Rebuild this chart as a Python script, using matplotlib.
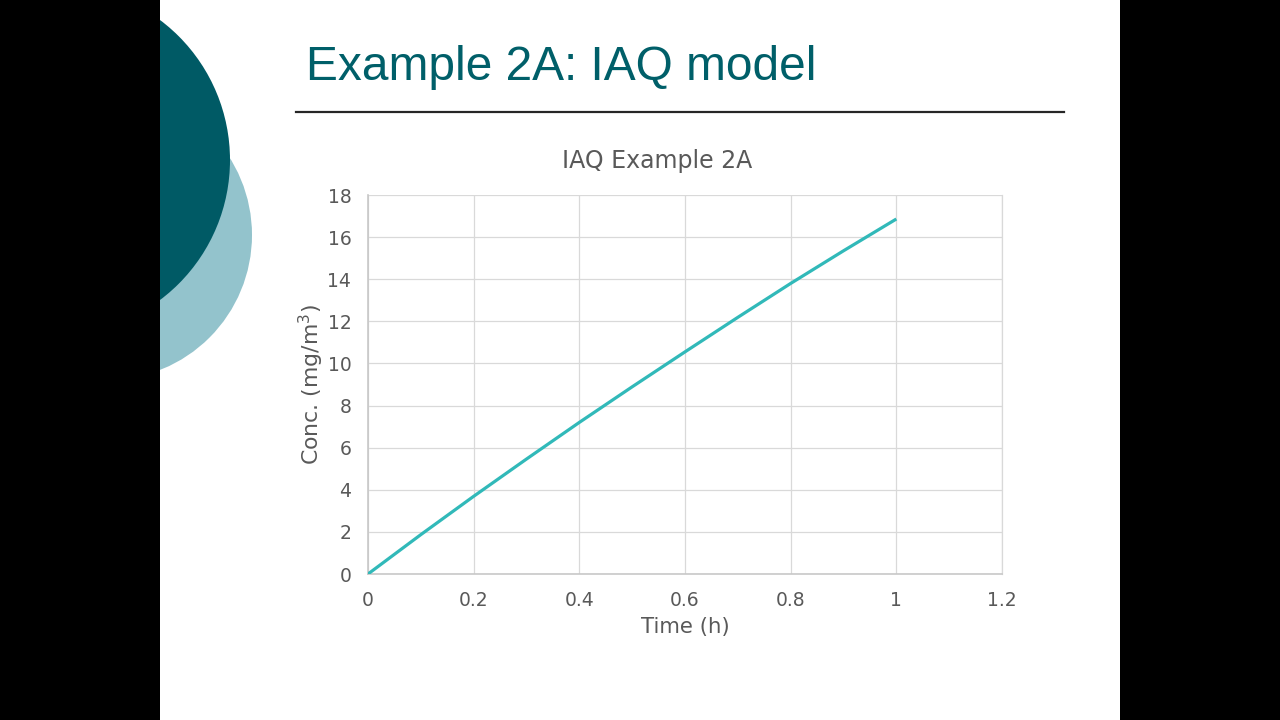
import matplotlib
matplotlib.use("Agg")
import matplotlib.pyplot as plt
from matplotlib.patches import Circle, Rectangle

# ---- data ----
time_h = [0.0, 0.1, 0.2, 0.3, 0.4, 0.5, 0.6, 0.7, 0.8, 0.9, 1.0]
conc = [0.0, 1.87, 3.69, 5.46, 7.20, 8.89, 10.55, 12.19, 13.80, 15.35, 16.86]
x_ticks = [0, 0.2, 0.4, 0.6, 0.8, 1, 1.2]
x_tick_labels = ["0", "0.2", "0.4", "0.6", "0.8", "1", "1.2"]
y_ticks = [0, 2, 4, 6, 8, 10, 12, 14, 16, 18]
y_tick_labels = [str(v) for v in y_ticks]

slide_title = "Example 2A: IAQ model"
chart_title = "IAQ Example 2A"
x_label = "Time (h)"
y_label = "Conc. (mg/m$^3$)"

W, H = 1280, 720
fig = plt.figure(figsize=(W / 100, H / 100), dpi=100, facecolor="black")

# ---- slide background / decorations (pixel coordinates) ----
bg = fig.add_axes([0, 0, 1, 1])
bg.set_xlim(0, W)
bg.set_ylim(H, 0)
bg.axis("off")
slide = Rectangle((160, 0), 960, 720, facecolor="white", edgecolor="none", zorder=0)
bg.add_patch(slide)
light = Circle((107, 235), 145, facecolor="#93C3CC", edgecolor="none", zorder=1)
dark = Circle((55, 160), 175, facecolor="#005A65", edgecolor="none", zorder=2)
for c in (light, dark):
    bg.add_patch(c)
    c.set_clip_path(slide)
bg.plot([296, 1064], [112, 112], color="#262626", lw=1.6, zorder=3)
bg.text(306, 80, slide_title, fontsize=34.5, family="Liberation Sans",
        color="#005F69", va="baseline", ha="left", zorder=3)
gray = "#595959"
bg.text(657, 161, chart_title, fontsize=17, color=gray, family="DejaVu Sans",
        ha="center", va="center", zorder=3)

# ---- chart ----
ax = fig.add_axes([368 / W, 1 - 574 / H, (1002 - 368) / W, (574 - 195) / H])
ax.set_facecolor("white")
ax.plot(time_h, conc, color="#31B9B9", lw=2.3, solid_capstyle="butt", zorder=3)
ax.set_xlim(0, 1.2)
ax.set_ylim(0, 18)
ax.set_xticks(x_ticks)
ax.set_xticklabels(x_tick_labels)
ax.set_yticks(y_ticks)
ax.set_yticklabels(y_tick_labels)
ax.grid(True, color="#D9D9D9", lw=0.9)
ax.set_axisbelow(True)
ax.spines["top"].set_visible(False)
ax.spines["right"].set_color("#D9D9D9")
ax.spines["right"].set_linewidth(0.9)
ax.spines["left"].set_color("#C8C8C8")
ax.spines["bottom"].set_color("#C8C8C8")
ax.spines["left"].set_linewidth(1.2)
ax.spines["bottom"].set_linewidth(1.2)
ax.tick_params(length=0, labelsize=13.5, labelcolor=gray)
ax.tick_params(axis="y", pad=12)
ax.tick_params(axis="x", pad=12)
for lab in ax.get_xticklabels() + ax.get_yticklabels():
    lab.set_family("DejaVu Sans")

ax.set_xlabel(x_label, fontsize=15.3, color=gray, family="DejaVu Sans", labelpad=5)
ax.set_ylabel(y_label, fontsize=15.8, color=gray, family="DejaVu Sans", labelpad=1)

fig.savefig("out.png", dpi=100, facecolor="black")
